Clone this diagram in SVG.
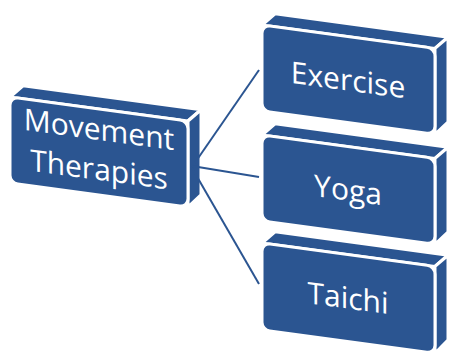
<svg xmlns="http://www.w3.org/2000/svg" width="449" height="352" viewBox="0 0 449 352">
  <style>
    .face { fill: #2b5591; stroke: #ffffff; stroke-width: 3; stroke-linejoin: round; }
    .lbl { fill: #ffffff; font-family: "Open Sans", "Liberation Sans", sans-serif; font-size: 30px; text-anchor: middle; }
    .conn { stroke: #2b5591; stroke-width: 2; fill: none; }
  </style>
  <rect width="449" height="352" fill="#ffffff"/>
  <g id="movement-therapies" transform="translate(10,97) skewY(7.7)">
    <polygon class="face" points="0,0 178,0 191,-13 13,-13"/>
    <polygon class="face" points="178,0 191,-13 191,72 178,86"/>
    <rect class="face" x="0" y="0" width="178" height="86" rx="8"/>
    <text class="lbl" x="89" y="31">Movement</text>
    <text class="lbl" x="89" y="71">Therapies</text>
  </g>
  <g id="exercise" transform="translate(262,25) skewY(7.7)">
    <polygon class="face" points="0,0 173,0 186,-13 13,-13"/>
    <polygon class="face" points="173,0 186,-13 186,72 173,86"/>
    <rect class="face" x="0" y="0" width="173" height="86" rx="8"/>
    <text class="lbl" x="86" y="54">Exercise</text>
  </g>
  <g id="yoga" transform="translate(262,135) skewY(7.7)">
    <polygon class="face" points="0,0 173,0 186,-13 13,-13"/>
    <polygon class="face" points="173,0 186,-13 186,72 173,86"/>
    <rect class="face" x="0" y="0" width="173" height="86" rx="8"/>
    <text class="lbl" x="86" y="54">Yoga</text>
  </g>
  <g id="taichi" transform="translate(262,243) skewY(7.7)">
    <polygon class="face" points="0,0 173,0 186,-13 13,-13"/>
    <polygon class="face" points="173,0 186,-13 186,72 173,87"/>
    <rect class="face" x="0" y="0" width="173" height="87" rx="8"/>
    <text class="lbl" x="86" y="54">Taichi</text>
  </g>
  <g id="connectors">
    <line class="conn" x1="192" y1="167" x2="259" y2="70"/>
    <line class="conn" x1="192" y1="166" x2="259" y2="177"/>
    <line class="conn" x1="192" y1="168" x2="259" y2="284"/>
  </g>
</svg>
